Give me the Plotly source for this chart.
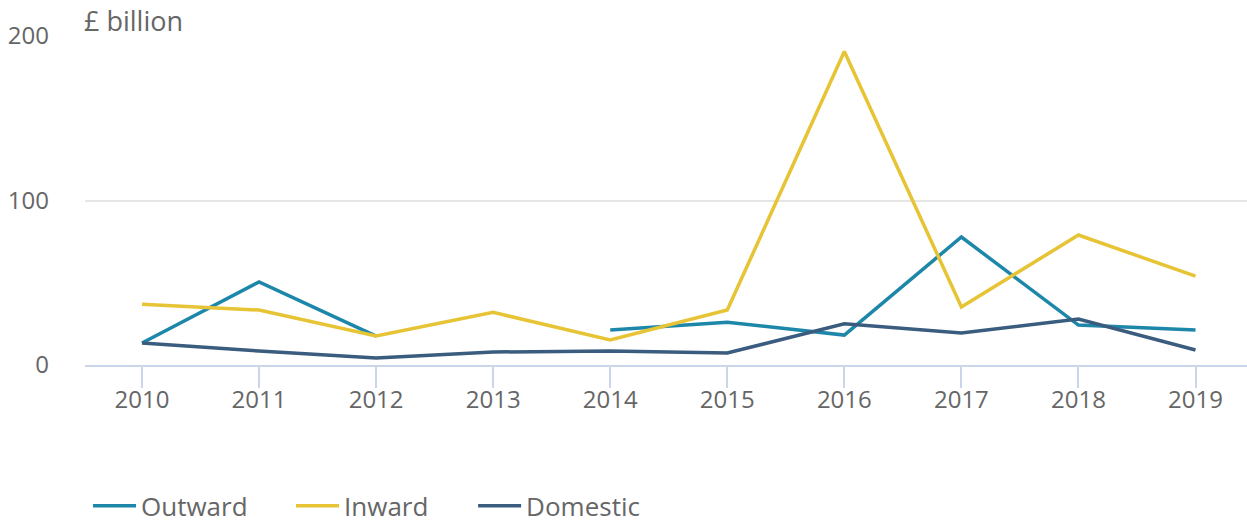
import plotly.graph_objects as go

years = [2010, 2011, 2012, 2013, 2014, 2015, 2016, 2017, 2018, 2019]
outward = [13.4, 50.5, 17.6, None, 21.3, 26.0, 18.2, 77.8, 24.3, 21.3]
inward = [37.0, 33.4, 17.6, 32.0, 15.2, 33.4, 190.6, 35.3, 79.0, 54.0]
domestic = [13.4, 8.5, 4.3, 7.9, 8.5, 7.3, 25.0, 19.5, 28.0, 9.1]

series = [
    ("Outward", outward, "#1d87aa", "legend", 0.0026),
    ("Inward", inward, "#e6c435", "legend2", 0.1773),
    ("Domestic", domestic, "#3a5c7e", "legend3", 0.334),
]

grey = "#666666"
fig = go.Figure()
legends = {}
for name, vals, color, lg, lx in series:
    fig.add_trace(go.Scatter(
        x=years, y=vals, name=name, mode="lines",
        line=dict(color=color, width=3.5),
        connectgaps=False, legend=lg,
    ))
    legends[lg] = dict(orientation="h", x=lx, xanchor="left",
                       yref="container", y=0.031, yanchor="middle",
                       font=dict(size=26, color=grey), itemwidth=43,
                       bgcolor="rgba(0,0,0,0)")

fig.update_layout(
    width=1247, height=522,
    margin=dict(l=85, r=0, t=35.5, b=157, autoexpand=False),
    paper_bgcolor="white", plot_bgcolor="white",
    font=dict(family="Open Sans", color=grey, size=24),
    showlegend=True,
    xaxis=dict(
        range=[2009.513, 2019.44], tickmode="array", tickvals=years,
        ticks="outside", ticklen=21, tickcolor="#ccd6eb", tickwidth=1.5,
        showline=True, linecolor="#ccd6eb", linewidth=2,
        showgrid=False, zeroline=False,
        ticklabelstandoff=-9,
        tickfont=dict(size=24, color=grey),
    ),
    yaxis=dict(
        range=[0, 200], tickvals=[0, 100, 200],
        showgrid=True, gridcolor="#e6e6e6", gridwidth=2,
        zeroline=False, showline=False, ticks="",
        ticklabelstandoff=35,
        tickfont=dict(size=24, color=grey),
    ),
    annotations=[dict(
        text="£ billion", xref="paper", yref="paper", x=-0.003, y=1.047,
        xanchor="left", yanchor="middle", showarrow=False,
        font=dict(size=27, color=grey),
    )],
    **legends,
)

fig.write_html("out.html", config={"displayModeBar": False},
               post_script="document.body.style.margin='0';")
